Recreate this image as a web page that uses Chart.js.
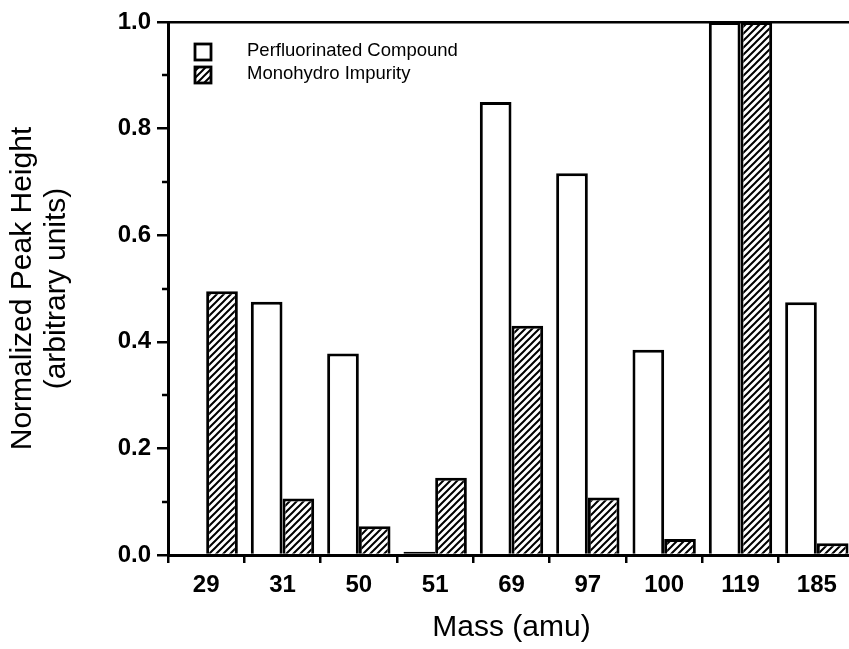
<!DOCTYPE html>
<html>
<head>
<meta charset="utf-8">
<script src="https://cdn.jsdelivr.net/npm/chart.js@4.4.1/dist/chart.umd.min.js"></script>
<style>
  html, body { margin: 0; padding: 0; background: #fff; overflow: hidden; }
  #wrap { position: relative; width: 860px; height: 649px; }
</style>
</head>
<body>
<div id="wrap"><canvas id="chart" width="860" height="649"></canvas></div>
<script>
// Mass peaks (amu) and normalized peak heights for the two species
const masses = ['29', '31', '50', '51', '69', '97', '100', '119', '185'];
const perfluorinated = [0, 0.475, 0.378, 0.006, 0.85, 0.716, 0.385, 1.0, 0.474];
const monohydro = [0.495, 0.106, 0.054, 0.145, 0.43, 0.108, 0.03, 1.0, 0.022];
const yMajorTicks = [0, 0.2, 0.4, 0.6, 0.8, 1.0];
const yMinorTicks = [0.1, 0.3, 0.5, 0.7, 0.9];

const FONT = "'Liberation Sans', Arial, Helvetica, sans-serif";

// Diagonal "/" hatch fill
function makeHatch() {
  const s = 7;
  const c = document.createElement('canvas');
  c.width = s; c.height = s;
  const g = c.getContext('2d');
  g.fillStyle = '#fff';
  g.fillRect(0, 0, s, s);
  g.strokeStyle = '#000';
  g.lineWidth = 2;
  g.beginPath();
  g.moveTo(-1, s + 1); g.lineTo(s + 1, -1);
  g.moveTo(-2, 2); g.lineTo(2, -2);
  g.moveTo(s - 2, s + 2); g.lineTo(s + 2, s - 2);
  g.stroke();
  return g.createPattern(c, 'repeat');
}

// Very short bars are outlined all round so they read as a solid line
const skipBase = c => (Math.abs(c.raw) < 0.01 ? false : 'start');

// Short unlabeled ticks between the labeled ones on the value axis
const minorTicks = {
  id: 'minorTicks',
  afterDraw(chart) {
    const y = chart.scales.y;
    const ctx = chart.ctx;
    ctx.save();
    ctx.strokeStyle = '#000';
    ctx.lineWidth = 2.5;
    ctx.beginPath();
    yMinorTicks.forEach(v => {
      const py = Math.round(y.getPixelForValue(v));
      ctx.moveTo(y.right - 6, py);
      ctx.lineTo(y.right, py);
    });
    ctx.stroke();
    ctx.restore();
  }
};

// Legend drawn inside the plot area, top-left
const innerLegend = {
  id: 'innerLegend',
  afterDraw(chart) {
    const ctx = chart.ctx;
    const area = chart.chartArea;
    ctx.save();
    ctx.font = '18.5px ' + FONT;
    ctx.textBaseline = 'middle';
    ctx.textAlign = 'left';
    chart.data.datasets.forEach((ds, i) => {
      const bx = area.left + 27;
      const by = area.top + 22 + i * 23;
      const size = 16;
      ctx.fillStyle = ds.backgroundColor;
      ctx.fillRect(bx, by, size, size);
      ctx.strokeStyle = '#000';
      ctx.lineWidth = 2.8;
      ctx.strokeRect(bx, by, size, size);
      ctx.fillStyle = '#000';
      ctx.fillText(ds.label, area.left + 79, by + size / 2 - 1);
    });
    ctx.restore();
  }
};

new Chart(document.getElementById('chart'), {
  type: 'bar',
  data: {
    labels: masses,
    datasets: [
      {
        label: 'Perfluorinated Compound',
        data: perfluorinated,
        backgroundColor: '#ffffff',
        borderColor: '#000',
        borderWidth: 3,
        borderSkipped: skipBase
      },
      {
        label: 'Monohydro Impurity',
        data: monohydro,
        backgroundColor: makeHatch(),
        borderColor: '#000',
        borderWidth: 3,
        borderSkipped: skipBase
      }
    ]
  },
  options: {
    responsive: false,
    animation: false,
    layout: { padding: { left: 0, top: 22, right: 5, bottom: 0 } },
    datasets: { bar: { categoryPercentage: 0.83, barPercentage: 1.0 } },
    plugins: { legend: { display: false }, tooltip: { enabled: false } },
    scales: {
      x: {
        afterFit(scale) { scale.height = 94; },
        grid: { drawOnChartArea: false, color: '#000', tickColor: '#000', tickLength: 8, lineWidth: 2.5 },
        border: { display: true, color: '#000', width: 3 },
        ticks: { color: '#000', font: { family: FONT, size: 24, weight: 'bold' }, padding: 8, maxRotation: 0 },
        title: {
          display: true, text: 'Mass (amu)', color: '#000',
          font: { family: FONT, size: 30, lineHeight: 1.15 },
          padding: { top: 0, bottom: 4 }
        }
      },
      y: {
        min: 0, max: 1,
        afterFit(scale) { scale.width = 168; },
        afterBuildTicks(scale) { scale.ticks = yMajorTicks.map(v => ({ value: v })); },
        grid: {
          drawOnChartArea: true,
          color: c => (c.tick && c.tick.value === 1 ? '#000' : 'rgba(0,0,0,0)'),
          tickColor: '#000', tickLength: 11, lineWidth: 2.5
        },
        border: { display: true, color: '#000', width: 3 },
        ticks: {
          color: '#000', font: { family: FONT, size: 24, weight: 'bold' }, padding: 6,
          callback: v => Number(v).toFixed(1)
        },
        title: {
          display: true, text: ['Normalized Peak Height', '(arbitrary units)'], color: '#000',
          font: { family: FONT, size: 30, lineHeight: 1.15 },
          padding: { top: 5, bottom: 0 }
        }
      }
    }
  },
  plugins: [minorTicks, innerLegend]
});
</script>
</body>
</html>
